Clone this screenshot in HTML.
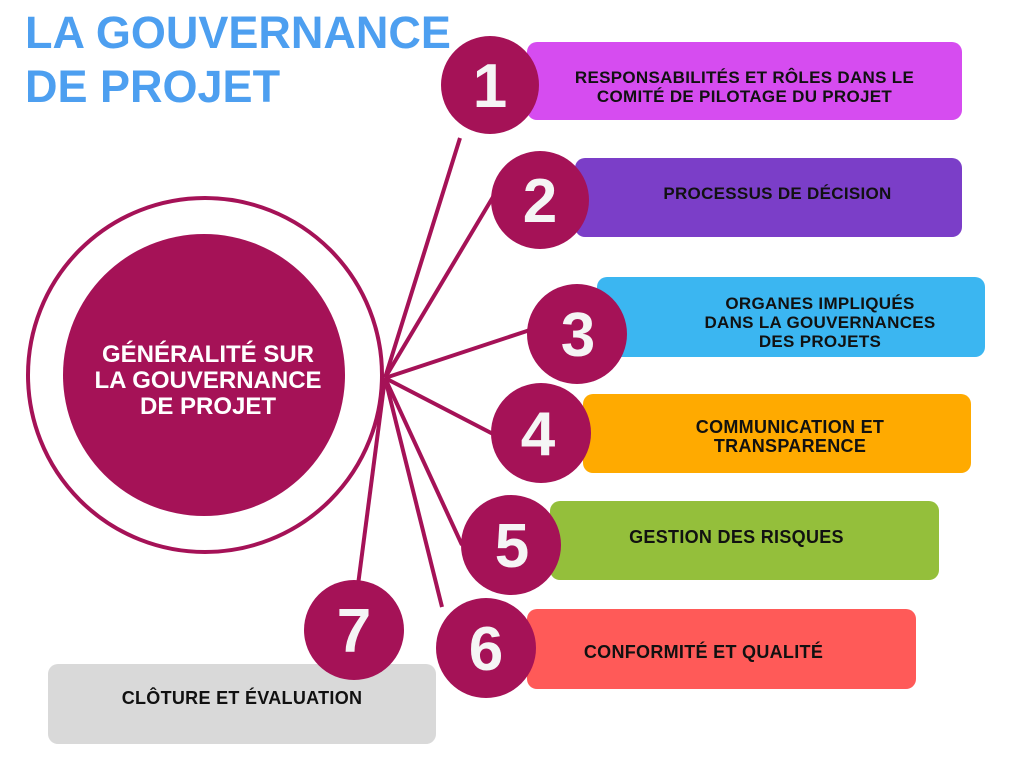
<!DOCTYPE html>
<html><head><meta charset="utf-8"><style>
body{margin:0;width:1024px;height:768px;background:#fff;overflow:hidden;position:relative;font-family:"Liberation Sans",sans-serif}
.t{position:absolute;left:25px;top:6px;color:#4d9ff0;font-weight:bold;font-size:45px;line-height:54px}
.b{position:absolute;border-radius:10px;display:flex;align-items:center;justify-content:center;font-weight:bold;font-size:17px;color:#111;text-align:center;line-height:19px;box-sizing:border-box;letter-spacing:0.3px}
</style></head><body>
<div class="t">LA GOUVERNANCE<br>DE PROJET</div>
<div class="b" style="left:527px;top:42px;width:435px;height:78px;background:#d64cf0;padding-top:12px">RESPONSABILITÉS ET RÔLES DANS LE<br>COMITÉ DE PILOTAGE DU PROJET</div>
<div class="b" style="left:575px;top:158px;width:387px;height:79px;background:#7b3ec8;padding-bottom:8px;padding-left:18px">PROCESSUS DE DÉCISION</div>
<div class="b" style="left:597px;top:277px;width:388px;height:80px;background:#3bb6f1;padding-left:58px;padding-top:10px">ORGANES IMPLIQUÉS<br>DANS LA GOUVERNANCES<br>DES PROJETS</div>
<div class="b" style="left:583px;top:394px;width:388px;height:79px;background:#ffaa00;padding-top:7px;padding-left:26px;font-size:18px">COMMUNICATION ET<br>TRANSPARENCE</div>
<div class="b" style="left:550px;top:501px;width:389px;height:79px;background:#94bf3b;padding-bottom:6px;padding-right:16px;font-size:18px">GESTION DES RISQUES</div>
<div class="b" style="left:527px;top:609px;width:389px;height:80px;background:#ff5a58;padding-top:6px;padding-right:36px;font-size:18px">CONFORMITÉ ET QUALITÉ</div>
<div class="b" style="left:48px;top:664px;width:388px;height:80px;background:#d9d9d9;padding-bottom:12px;font-size:18px">CLÔTURE ET ÉVALUATION</div>
<svg width="1024" height="768" style="position:absolute;left:0;top:0">
<g stroke="#a51257" stroke-width="4" fill="none">
<circle cx="205" cy="375" r="177"/>
<line x1="385" y1="378" x2="460" y2="138"/>
<line x1="385" y1="378" x2="493" y2="197"/>
<line x1="385" y1="378" x2="530" y2="330"/>
<line x1="385" y1="378" x2="495" y2="435"/>
<line x1="385" y1="378" x2="462" y2="545"/>
<line x1="385" y1="378" x2="442" y2="607"/>
<line x1="385" y1="378" x2="358" y2="585"/>
</g>
<g fill="#a51257">
<circle cx="204" cy="375" r="141"/>
<circle cx="490" cy="85" r="49"/>
<circle cx="540" cy="200" r="49"/>
<circle cx="577" cy="334" r="50"/>
<circle cx="541" cy="433" r="50"/>
<circle cx="511" cy="545" r="50"/>
<circle cx="486" cy="648" r="50"/>
<circle cx="354" cy="630" r="50"/>
</g>
<g fill="#f5f5f5" font-family="Liberation Sans,sans-serif" font-weight="bold" font-size="62" text-anchor="middle">
<text x="490" y="107">1</text><text x="540" y="222">2</text><text x="578" y="356">3</text><text x="538" y="455">4</text><text x="512" y="567">5</text><text x="486" y="670">6</text><text x="354" y="652">7</text>
</g>
<g fill="#fff" font-family="Liberation Sans,sans-serif" font-weight="bold" font-size="24" text-anchor="middle">
<text x="208" y="362">GÉNÉRALITÉ SUR</text><text x="208" y="388">LA GOUVERNANCE</text><text x="208" y="414">DE PROJET</text>
</g>
</svg>
</body></html>
